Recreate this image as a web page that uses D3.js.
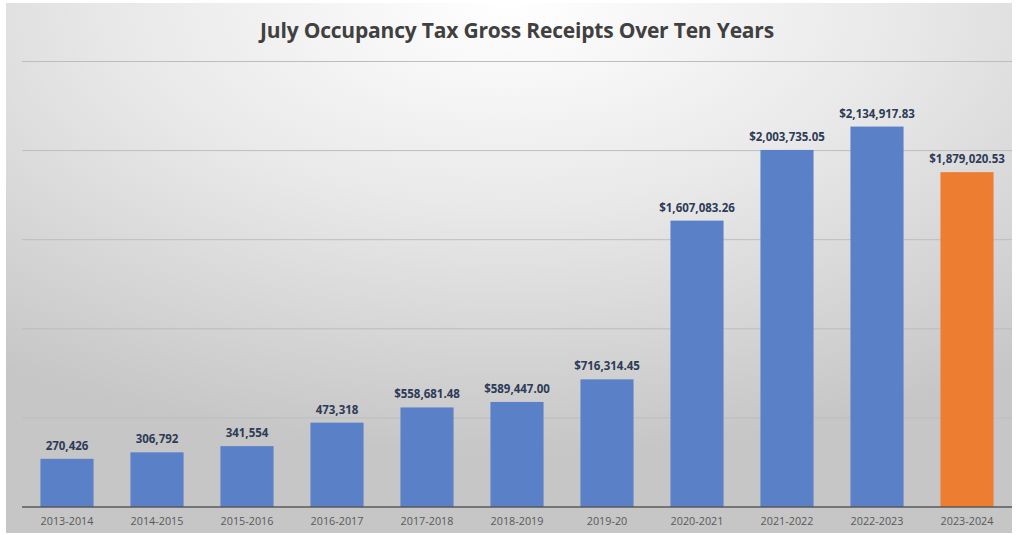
<!DOCTYPE html>
<html><head><meta charset="utf-8">
<script src="https://cdn.jsdelivr.net/npm/d3@7"></script>
<style>html,body{margin:0;padding:0;background:#fff;}</style>
</head><body>
<svg id="c" width="1016" height="535"></svg>
<script>
const categories = ["2013-2014","2014-2015","2015-2016","2016-2017","2017-2018","2018-2019","2019-20","2020-2021","2021-2022","2022-2023","2023-2024"];
const values = [270426,306792,341554,473318,558681.48,589447.00,716314.45,1607083.26,2003735.05,2134917.83,1879020.53];
const labels = ["270,426","306,792","341,554","473,318","$558,681.48","$589,447.00","$716,314.45","$1,607,083.26","$2,003,735.05","$2,134,917.83","$1,879,020.53"];
const highlight = [false,false,false,false,false,false,false,false,false,false,true];
const gridTicks = [500000,1000000,1500000,2000000,2500000];
const title = "July Occupancy Tax Gross Receipts Over Ten Years";

const svg = d3.select("#c");
const defs = svg.append("defs");
const rg = defs.append("radialGradient").attr("id","bg")
  .attr("cx","50%").attr("cy","0%").attr("r","85%").attr("fx","50%").attr("fy","0%");
rg.append("stop").attr("offset","0%").attr("stop-color","#ffffff");
rg.append("stop").attr("offset","45%").attr("stop-color","#e9e9e9");
rg.append("stop").attr("offset","100%").attr("stop-color","#c6c6c6");

svg.append("rect").attr("x",6).attr("y",3).attr("width",1006).attr("height",530).attr("fill","url(#bg)");

const x = d3.scaleBand().domain(categories).range([22,1012]).paddingInner(0.41).paddingOuter(0.205);
const y = d3.scaleLinear().domain([0,2500000]).range([507,61.5]);

svg.append("g").selectAll("line").data(gridTicks).join("line")
  .attr("x1",22).attr("x2",1012).attr("y1",d=>y(d)).attr("y2",d=>y(d))
  .attr("stroke","#bdbdbd").attr("stroke-width",1);

svg.append("g").selectAll("rect").data(values).join("rect")
  .attr("x",(d,i)=>x(categories[i])).attr("width",x.bandwidth())
  .attr("y",d=>y(d)).attr("height",d=>y(0)-y(d))
  .attr("fill",(d,i)=>highlight[i]?"#ED7D31":"#5A80C8");

svg.append("line").attr("x1",22).attr("x2",1012).attr("y1",y(0)).attr("y2",y(0))
  .attr("stroke","#595959").attr("stroke-width",1.5);

svg.append("g").selectAll("text").data(values).join("text")
  .attr("x",(d,i)=>x(categories[i])+x.bandwidth()/2).attr("y",d=>y(d)-9)
  .attr("text-anchor","middle").attr("font-family","Open Sans, sans-serif")
  .attr("font-weight","bold").attr("font-size","11.5px").attr("fill","#2E3B57")
  .text((d,i)=>labels[i]);

const xAxis = d3.axisBottom(x).tickSize(0).tickPadding(10);
const gx = svg.append("g").attr("transform",`translate(0,${y(0)})`).call(xAxis);
gx.select(".domain").remove();
gx.selectAll("text").attr("font-family","Open Sans, sans-serif").attr("font-size","10.8px").attr("fill","#595959");

svg.append("text").attr("x",517).attr("y",38).attr("text-anchor","middle")
  .attr("font-family","Open Sans, sans-serif").attr("font-weight","bold").attr("font-size","21px")
  .attr("fill","#404040").attr("letter-spacing","-0.2").text(title);
</script>
</body></html>
